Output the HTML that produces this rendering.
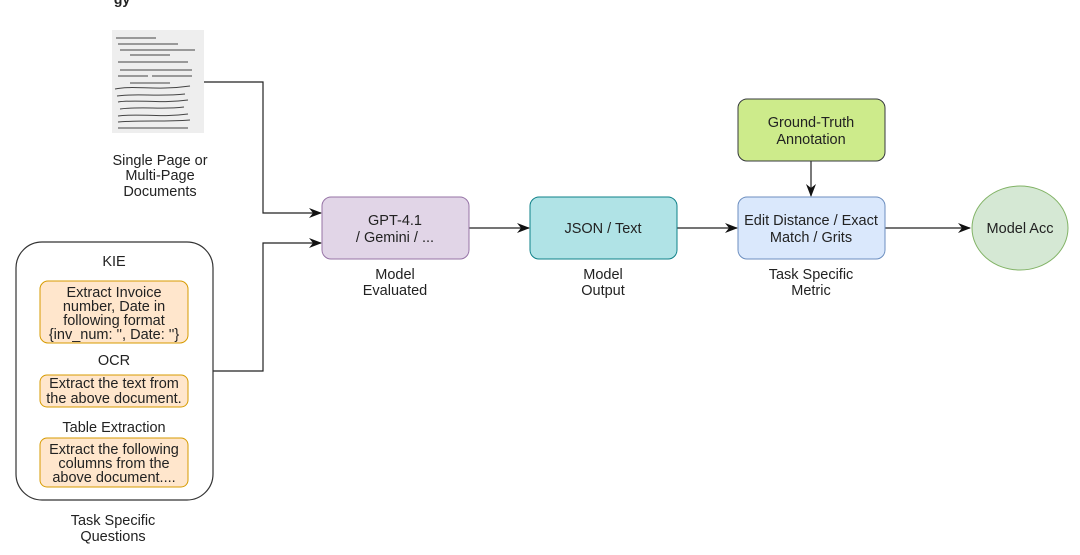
<!DOCTYPE html>
<html><head><meta charset="utf-8"><style>
body{margin:0;background:#fff;width:1080px;height:550px;overflow:hidden}
svg text{font-family:"Liberation Sans",Arial,sans-serif;font-size:14.5px;fill:#222;text-anchor:middle}
</style></head><body>
<svg width="1080" height="550" viewBox="0 0 1080 550" xmlns="http://www.w3.org/2000/svg">
<defs><marker id="a" markerWidth="13" markerHeight="10" refX="12" refY="5" orient="auto" markerUnits="userSpaceOnUse"><path d="M0,0 L13,5 L0,10 L4,5Z" fill="#111"/></marker></defs>
<text x="122" y="4" style="font-size:14px;font-weight:bold">gy</text>
<!-- document -->
<rect x="112" y="30" width="92" height="103" fill="#eeeeee"/>
<g stroke="#444" stroke-width="1" fill="none">
<path d="M116 38h40M118 44h60M120 50h75M130 55h40M118 62h70M120 70h72M118 76h30M152 76h40M130 83h40"/>
<path d="M115 89c20-4 40 2 75-3M117 96c20-3 40 1 68-2M118 102c20-3 40 2 70-2M120 109c25-3 40 1 64-2M118 116c22-3 40 2 70-2M118 122c25-2 45 0 72-2M118 128h70"/>
</g>
<text x="160" y="165">Single Page or</text>
<text x="160" y="180">Multi-Page</text>
<text x="160" y="196">Documents</text>
<!-- connectors -->
<g stroke="#222" stroke-width="1.2" fill="none">
<path d="M204 82H263V213H321" marker-end="url(#a)"/>
<path d="M213 371H263V243H321" marker-end="url(#a)"/>
<path d="M469 228H529" marker-end="url(#a)"/>
<path d="M677 228H737" marker-end="url(#a)"/>
<path d="M811 161V196" marker-end="url(#a)"/>
<path d="M885 228H970" marker-end="url(#a)"/>
</g>
<!-- nodes -->
<rect x="322" y="197" width="147" height="62" rx="9" fill="#e1d5e7" stroke="#9673a6"/>
<text x="395" y="225">GPT-4.1</text><text x="395" y="242">/ Gemini / ...</text>
<text x="395" y="279">Model</text><text x="395" y="295">Evaluated</text>
<rect x="530" y="197" width="147" height="62" rx="9" fill="#b0e3e6" stroke="#0e8088"/>
<text x="603" y="233">JSON / Text</text>
<text x="603" y="279">Model</text><text x="603" y="295">Output</text>
<rect x="738" y="99" width="147" height="62" rx="9" fill="#cdeb8b" stroke="#36393d"/>
<text x="811" y="127">Ground-Truth</text><text x="811" y="144">Annotation</text>
<rect x="738" y="197" width="147" height="62" rx="9" fill="#dae8fc" stroke="#6c8ebf"/>
<text x="811" y="225">Edit Distance / Exact</text><text x="811" y="242">Match / Grits</text>
<text x="811" y="279">Task Specific</text><text x="811" y="295">Metric</text>
<ellipse cx="1020" cy="228" rx="48" ry="42" fill="#d5e8d4" stroke="#82b366"/>
<text x="1020" y="233">Model Acc</text>
<!-- left box -->
<rect x="16" y="242" width="197" height="258" rx="26" fill="#fff" stroke="#333" stroke-width="1.2"/>
<text x="114" y="266">KIE</text>
<rect x="40" y="281" width="148" height="62" rx="8" fill="#ffe6cc" stroke="#d79b00"/>
<text x="114" y="297">Extract Invoice</text><text x="114" y="311">number, Date in</text><text x="114" y="325">following format</text><text x="114" y="339">{inv_num: '', Date: ''}</text>
<text x="114" y="365">OCR</text>
<rect x="40" y="375" width="148" height="32" rx="7" fill="#ffe6cc" stroke="#d79b00"/>
<text x="114" y="388">Extract the text from</text><text x="114" y="403">the above document.</text>
<text x="114" y="432">Table Extraction</text>
<rect x="40" y="438" width="148" height="49" rx="7" fill="#ffe6cc" stroke="#d79b00"/>
<text x="114" y="454">Extract the following</text><text x="114" y="468">columns from the</text><text x="114" y="482">above document....</text>
<text x="113" y="525">Task Specific</text><text x="113" y="541">Questions</text>
</svg>
</body></html>
